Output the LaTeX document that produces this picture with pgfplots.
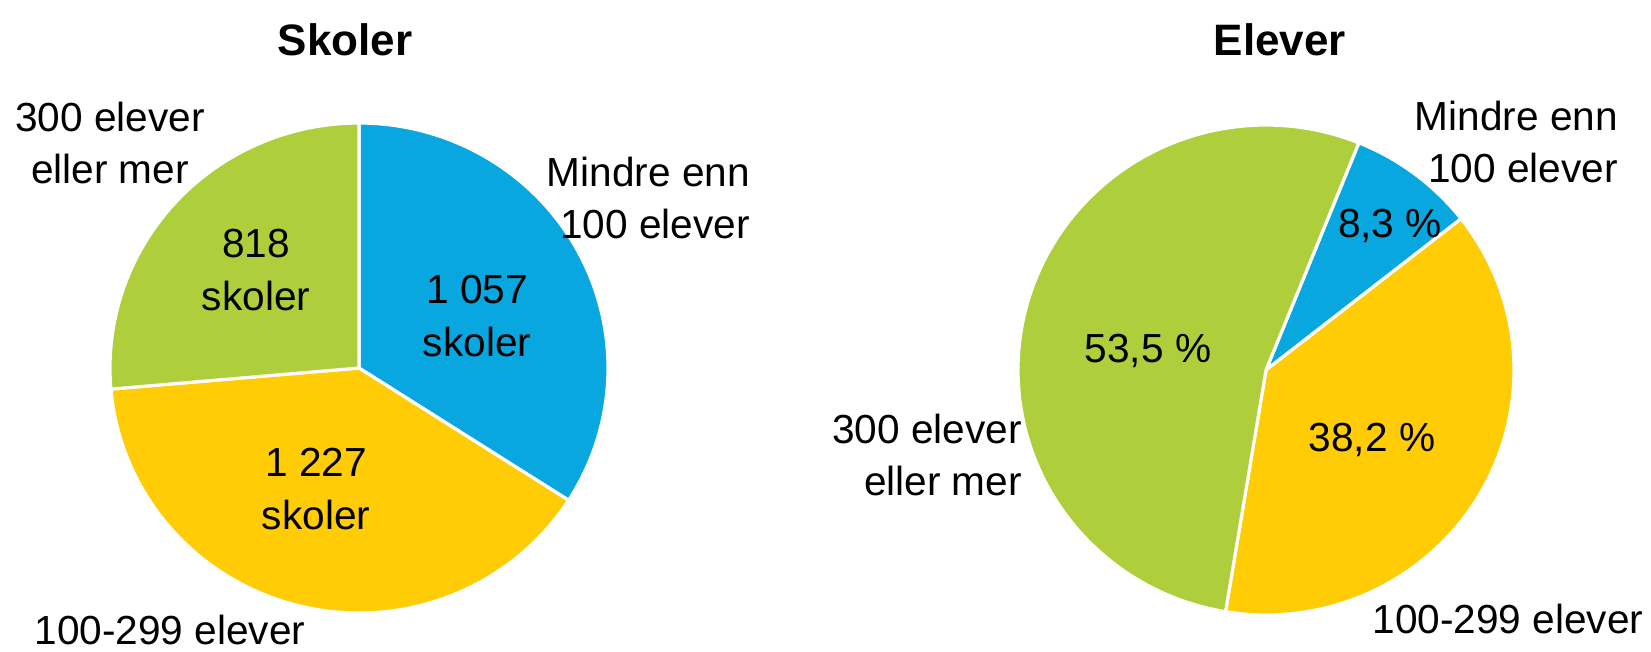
\documentclass[border=0pt]{standalone}
\usepackage{pgfplots}
\pgfplotsset{compat=1.18}
\usepackage{fontspec}
\setmainfont{Liberation Sans}
\definecolor{pieblue}{RGB}{8,167,224}
\definecolor{pieyellow}{RGB}{255,204,5}
\definecolor{piegreen}{RGB}{174,206,60}
\definecolor{txt}{RGB}{38,38,38}
% data
\def\SkA{1057}% Mindre enn 100 elever
\def\SkB{1227}% 100-299 elever
\def\SkC{818}%  300 elever eller mer
\def\ElA{8.3}
\def\ElB{38.2}
\def\ElC{53.5}
% #1 cx, #2 cy, #3 rx, #4 ry, #5 start angle, #6 end angle, #7 colour
\newcommand{\pieslice}[7]{%
  \addplot[fill=#7, draw=white, line width=1.6bp, line join=round,
    domain=#6:#5, samples=120, variable=\t]
    ({#1+#3*cos(\t)},{#2+#4*sin(\t)}) -- (axis cs:#1,#2) -- cycle;
}
\begin{document}
\begin{tikzpicture}
\pgfmathsetmacro{\Stot}{\SkA+\SkB+\SkC}
\pgfmathsetmacro{\La}{90}
\pgfmathsetmacro{\Lb}{\La-360*(\SkA/\Stot)}
\pgfmathsetmacro{\Lc}{\Lb-360*(\SkB/\Stot)}
\pgfmathsetmacro{\Ld}{\Lc-360*(\SkC/\Stot)}
\pgfmathsetmacro{\Etot}{\ElA+\ElB+\ElC}
\pgfmathsetmacro{\Ra}{68}
\pgfmathsetmacro{\Rb}{\Ra-360*(\ElA/\Etot)}
\pgfmathsetmacro{\Rc}{\Rb-360*(\ElB/\Etot)}
\pgfmathsetmacro{\Rd}{\Rc-360*(\ElC/\Etot)}
\begin{axis}[x=0.5bp, y=0.5bp, xmin=0, xmax=1651, ymin=0, ymax=650,
  hide axis, clip=false,
  every node/.style={text=txt, inner sep=0pt}]
\path (axis cs:0,0) rectangle (axis cs:1651,650);
% left pie
\pieslice{359}{282}{249}{245}{\La}{\Lb}{pieblue}
\pieslice{359}{282}{249}{245}{\Lb}{\Lc}{pieyellow}
\pieslice{359}{282}{249}{245}{\Lc}{\Ld}{piegreen}
% right pie
\pieslice{1266}{280}{248}{245}{\Ra}{\Rb}{pieblue}
\pieslice{1266}{280}{248}{245}{\Rb}{\Rc}{pieyellow}
\pieslice{1266}{280}{248}{245}{\Rc}{\Rd}{piegreen}
% titles
\node[font=\fontsize{22bp}{26bp}\selectfont\bfseries] at (axis cs:345,610) {Skoler};
\node[font=\fontsize{22bp}{26bp}\selectfont\bfseries] at (axis cs:1280,610) {Elever};
% left labels
\begin{scope}[every node/.append style={font=\fontsize{20.3bp}{26.3bp}\selectfont}]
\node[align=center] at (axis cs:110,507) {300 elever\\eller mer};
\node[align=right, anchor=east] at (axis cs:757,452) {Mindre enn\\100 elever};
\node[align=center] at (axis cs:256,380) {818\\skoler};
\node[align=center] at (axis cs:477,334) {1 057\\skoler};
\node[align=center] at (axis cs:316,161) {1 227\\skoler};
\node at (axis cs:170,20) {100-299 elever};
% right labels
\node[align=right, anchor=east] at (axis cs:1625,508) {Mindre enn\\100 elever};
\node at (axis cs:1390,424) {8,3 \%};
\node at (axis cs:1148,299) {53,5 \%};
\node[align=right, anchor=east] at (axis cs:1029,195) {300 elever\\eller mer};
\node at (axis cs:1372,210) {38,2 \%};
\node at (axis cs:1508,31) {100-299 elever};
\end{scope}
\end{axis}
\end{tikzpicture}
\end{document}
